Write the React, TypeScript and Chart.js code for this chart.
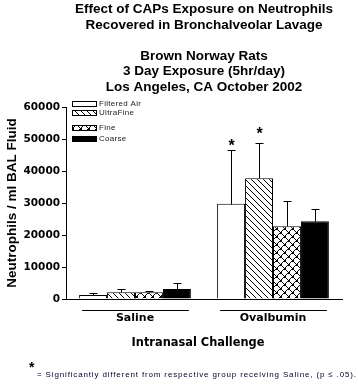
import React, { useEffect, useRef } from 'react';
import { Chart, registerables } from 'chart.js';
Chart.register(...registerables);

const groups = ['Saline', 'Ovalbumin'];
const seriesNames = ['Filtered Air', 'UltraFine', 'Fine', 'Coarse'];
const filteredAir = [1250, 29800];
const filteredAirErr = [550, 16700];
const ultraFine = [2100, 37700];
const ultraFineErr = [1000, 11100];
const fine = [2100, 22700];
const fineErr = [400, 7900];
const coarse = [3100, 24300];
const coarseErr = [1800, 3900];
// level (in y units) at which the significance asterisk is placed, null = none
const filteredAirSig = [null, 48700];
const ultraFineSig = [null, 52400];
const fineSig = [null, null];
const coarseSig = [null, null];
const yMin = 0;
const yMax = 60000;
const yStep = 10000;
const titleLines = [
  'Effect of CAPs Exposure on Neutrophils',
  'Recovered in Bronchalveolar Lavage',
  '',
  'Brown Norway Rats',
  '3 Day Exposure (5hr/day)',
  'Los Angeles, CA October 2002',
];
const yTitle = 'Neutrophils / ml BAL Fluid';
const xTitle = 'Intranasal Challenge';
const footnote = '= Significantly different from respective group receiving Saline, (p \u2264 .05).';

const ARIAL = 'Arial, "Liberation Sans", sans-serif';
const WIDE = '"DejaVu Sans", Verdana, sans-serif';

function makeHatch(): CanvasPattern {
  const n = 6;
  const c = document.createElement('canvas');
  c.width = n; c.height = n;
  const g = c.getContext('2d')!;
  g.fillStyle = '#fff'; g.fillRect(0, 0, n, n);
  g.fillStyle = '#000';
  for (let i = 0; i < n; i++) g.fillRect(i, i, 1, 1);
  return g.createPattern(c, 'repeat')!;
}

function makeCross(): CanvasPattern {
  const n = 8;
  const c = document.createElement('canvas');
  c.width = n; c.height = n;
  const g = c.getContext('2d')!;
  g.fillStyle = '#fff'; g.fillRect(0, 0, n, n);
  g.fillStyle = '#000';
  for (let i = 0; i < n; i++) {
    g.fillRect(i, i, 1, 1);
    g.fillRect(i, (n - i) % n, 1, 1);
  }
  const dot = (x: number, y: number) => {
    g.fillRect((x + n) % n, (y + n) % n, 1, 1);
    g.fillRect((x + 1 + n) % n, (y + n) % n, 1, 1);
    g.fillRect((x + n) % n, (y + 1 + n) % n, 1, 1);
    g.fillRect((x + 1 + n) % n, (y + 1 + n) % n, 1, 1);
  };
  dot(0, 0);
  dot(4, 4);
  return g.createPattern(c, 'repeat')!;
}

export default function App() {
  const ref = useRef<HTMLCanvasElement | null>(null);
  useEffect(() => {
    document.body.style.margin = '0';
    const canvas = ref.current!;
    const fills: (string | CanvasPattern)[] = ['#ffffff', makeHatch(), makeCross(), '#000000'];
    const values = [filteredAir, ultraFine, fine, coarse];
    const errs = [filteredAirErr, ultraFineErr, fineErr, coarseErr];
    const sigs = [filteredAirSig, ultraFineSig, fineSig, coarseSig];

    const extras = {
      id: 'extras',
      afterDatasetsDraw(chart: any) {
        const ctx: CanvasRenderingContext2D = chart.ctx;
        const y = chart.scales.y;
        ctx.save();
        ctx.strokeStyle = '#000';
        ctx.lineWidth = 1;
        values.forEach((vals, i) => {
          const meta = chart.getDatasetMeta(i);
          meta.data.forEach((bar: any, j: number) => {
            const v = vals[j];
            const e = errs[i][j];
            const x = Math.round(bar.x) + 0.5;
            const top = Math.round(y.getPixelForValue(v)) + 0.5;
            const et = Math.round(y.getPixelForValue(v + e)) + 0.5;
            ctx.beginPath();
            ctx.moveTo(x, top);
            ctx.lineTo(x, et);
            ctx.moveTo(x - 4, et);
            ctx.lineTo(x + 4, et);
            ctx.stroke();
            const s = sigs[i][j];
            if (s !== null && s !== undefined) {
              ctx.fillStyle = '#000';
              ctx.font = 'bold 16px ' + ARIAL;
              ctx.textAlign = 'center';
              ctx.textBaseline = 'middle';
              ctx.fillText('*', x, y.getPixelForValue(s) + 3);
            }
          });
        });
        ctx.restore();
      },
      afterDraw(chart: any) {
        const ctx: CanvasRenderingContext2D = chart.ctx;
        const area = chart.chartArea;
        ctx.save();
        // legend
        const rows = [102, 111, 126, 137];
        seriesNames.forEach((name, i) => {
          const ry = rows[i];
          ctx.fillStyle = fills[i] as any;
          ctx.fillRect(area.left + 7, ry, 23, 4);
          ctx.strokeStyle = '#000';
          ctx.lineWidth = 1;
          ctx.strokeRect(area.left + 6.5, ry - 0.5, 24, 5);
          ctx.fillStyle = '#222';
          ctx.font = '8px ' + ARIAL;
          (ctx as any).letterSpacing = '0.3px';
          ctx.textAlign = 'left';
          ctx.textBaseline = 'middle';
          ctx.fillText(name, area.left + 33, ry + 2);
          (ctx as any).letterSpacing = '0px';
        });
        // group underlines
        const first = chart.getDatasetMeta(0);
        const last = chart.getDatasetMeta(values.length - 1);
        ctx.strokeStyle = '#000';
        ctx.lineWidth = 1;
        groups.forEach((_, j) => {
          const b0: any = first.data[j];
          const b1: any = last.data[j];
          const x0 = b0.x - b0.width / 2 + 3;
          const x1 = b1.x + b1.width / 2 - 2;
          ctx.beginPath();
          ctx.moveTo(x0, 310.5);
          ctx.lineTo(x1, 310.5);
          ctx.stroke();
        });
        // x title
        ctx.fillStyle = '#000';
        ctx.font = 'bold 11.4px ' + WIDE;
        ctx.textAlign = 'center';
        ctx.textBaseline = 'middle';
        ctx.fillText(xTitle, 198, 343);
        // footnote
        ctx.font = 'bold 14px ' + ARIAL;
        ctx.textAlign = 'left';
        ctx.textBaseline = 'alphabetic';
        ctx.fillText('*', 29, 372);
        ctx.font = '8px ' + ARIAL;
        (ctx as any).letterSpacing = '0.85px';
        ctx.fillStyle = '#000030';
        ctx.fillText(footnote, 37, 377);
        (ctx as any).letterSpacing = '0px';
        ctx.restore();
      },
    };

    const chart = new Chart(canvas, {
      type: 'bar',
      data: {
        labels: groups,
        datasets: seriesNames.map((name, i) => ({
          label: name,
          data: values[i],
          backgroundColor: fills[i] as any,
          borderColor: '#000',
          borderWidth: 1,
          categoryPercentage: 0.81,
          barPercentage: 1.0,
        })),
      },
      options: {
        animation: false,
        responsive: false,
        events: [],
        layout: { padding: { left: 0, right: 16, top: 0, bottom: 0 } },
        plugins: {
          legend: { display: false },
          tooltip: { enabled: false },
          title: {
            display: true,
            text: titleLines,
            fullSize: false,
            color: '#000',
            font: { family: ARIAL, size: 13.5, weight: 'bold', lineHeight: '15.5px' as any },
            padding: { top: 2, bottom: 12 },
          },
        },
        scales: {
          x: {
            grid: { display: false, drawTicks: false },
            border: { display: true, color: '#000', width: 1 },
            ticks: { color: '#000', font: { family: WIDE, size: 11, weight: 'bold' }, padding: 13 },
            afterFit: (s: any) => { s.height = 85; },
          },
          y: {
            min: yMin,
            max: yMax,
            ticks: {
              stepSize: yStep,
              color: '#000',
              font: { family: WIDE, size: 10.5, weight: 'bold' },
              padding: 2,
              callback: (v: any) => String(v),
            },
            grid: { display: true, drawOnChartArea: false, drawTicks: true, tickLength: 4, color: '#000' },
            border: { display: true, color: '#000', width: 1 },
            title: {
              display: true,
              text: yTitle,
              color: '#000',
              font: { family: ARIAL, size: 13.5, weight: 'bold' },
              padding: { top: 4, bottom: 0 },
            },
            afterFit: (s: any) => { s.width = 66; },
          },
        },
      },
      plugins: [extras],
    });
    return () => chart.destroy();
  }, []);
  return <canvas ref={ref} width={358} height={384} style={{ display: 'block' }} />;
}
